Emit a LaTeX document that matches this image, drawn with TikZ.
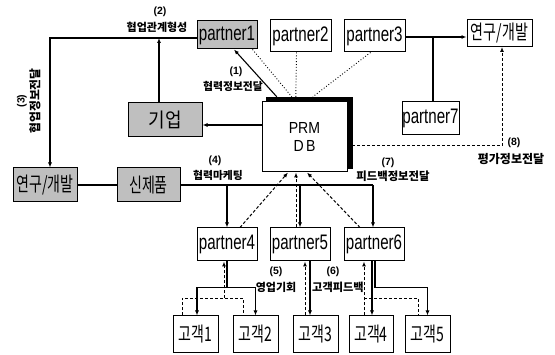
\documentclass[tikz,border=0pt]{standalone}
\usepackage{fontspec}
\setmainfont{Liberation Sans}
\newfontfamily\kr{Noto Sans CJK KR}
\usetikzlibrary{arrows.meta,calc}
\newcommand\entxt[1]{\scalebox{0.72}[1]{\fontsize{21}{21}\selectfont #1}}
\newcommand\kotxt[1]{\scalebox{0.7}[1]{\kr\fontsize{20}{20}\selectfont #1}}
\newcommand\lblsz[1]{\kr\bfseries\fontsize{#1}{#1}\selectfont}
\begin{document}
\begin{tikzpicture}[x=1pt,y=-1pt,
 box/.style={draw,line width=1pt,fill=white,inner sep=0pt,minimum width=60pt,minimum height=33pt},
 gbox/.style={box,fill=black!25},
 arr/.style={-{Latex[length=5pt,width=4pt]}},
 conn/.style={line width=1.1pt},
 dsh/.style={line width=1pt,dash pattern=on 3pt off 2pt},
 dot/.style={line width=0.9pt,dotted},
 lbl/.style={inner sep=0pt},
 num/.style={inner sep=0pt,font=\bfseries\fontsize{10.5}{10.5}\selectfont}]
\fill[white] (0,0) rectangle (555,355);
\useasboundingbox (0,0) rectangle (555,355);

% top row
\node[gbox,minimum width=60pt,minimum height=28pt] (p1) at (227,35) {\entxt{partner1}};
\node[box,minimum width=61pt,minimum height=32pt] (p2) at (300.5,36) {\entxt{partner2}};
\node[box,minimum width=61pt,minimum height=32pt] (p3) at (374.5,36) {\entxt{partner3}};
\node[box,minimum width=65pt,minimum height=27pt] (rd1) at (499.5,33) {\kotxt{연구/개발}};
\node[box,minimum width=57pt,minimum height=33pt] (p7) at (430.5,118.5) {\entxt{partner7}};
\node[gbox,minimum width=74pt,minimum height=34pt] (giup) at (165,120) {\scalebox{0.9}[1]{\kr\fontsize{20}{20}\selectfont 기업}};
\node[gbox,minimum width=64pt,minimum height=34pt] (rd2) at (45,185) {\kotxt{연구/개발}};
\node[gbox,minimum width=63pt,minimum height=34pt] (sin) at (148.5,185) {\kotxt{신제품}};

% PRM DB with shadow
\node[draw,fill=black,minimum width=86pt,minimum height=71pt,inner sep=0pt] (prmsh) at (309,132.5) {};
\node[box,minimum width=85pt,minimum height=70pt,align=center] (prm) at (304.5,137)
  {\scalebox{0.88}[1]{\fontsize{16}{16}\selectfont PRM}\\[6pt]\scalebox{0.88}[1]{\fontsize{16}{16}\selectfont D\,B}};

% partners row
\node[box] (p4) at (227,244.5) {\entxt{partner4}};
\node[box] (p5) at (300,244.5) {\entxt{partner5}};
\node[box] (p6) at (374,244.5) {\entxt{partner6}};

% customers
\node[box,minimum width=45pt,minimum height=37pt] (c1) at (195.5,334.5) {\kotxt{고객1}};
\node[box,minimum width=45pt,minimum height=37pt] (c2) at (255.5,334.5) {\kotxt{고객2}};
\node[box,minimum width=45pt,minimum height=37pt] (c3) at (315.5,334.5) {\kotxt{고객3}};
\node[box,minimum width=44pt,minimum height=37pt] (c4) at (371,334.5) {\kotxt{고객4}};
\node[box,minimum width=45pt,minimum height=37pt] (c5) at (427.5,334.5) {\kotxt{고객5}};

% top connectors
\coordinate (hl) at ([yshift=-3pt]p1.west);
\draw[conn,arr] (hl) -| ([xshift=5pt]rd2.north);
\draw[conn,arr] ([xshift=-6pt]giup.north) -- ([xshift=-6pt]giup.north |- hl);
\draw[conn,arr] ([yshift=12pt]prm.west) -- ([yshift=12pt]prm.west -| giup.east);
\draw[conn,arr] ([xshift=11pt]prmsh.north west) -- ([xshift=7pt]p1.south);
\draw[dot] ([xshift=-5pt]p1.south east) -- ([xshift=26pt]prmsh.north west);
\draw[dot] ([xshift=-4pt]p2.south) -- ([xshift=30pt]prmsh.north west);
\draw[dot] ([xshift=-4pt]p3.south) -- ([xshift=47pt]prmsh.north west);
\coordinate (r3) at ([yshift=-1pt]p3.east);
\draw[conn,arr] (r3) -- (r3 -| rd1.west);
\draw[conn] ([xshift=2.5pt]p7.north) -- ([xshift=2.5pt]p7.north |- r3);
\coordinate (e8) at ([yshift=-13.5pt]prmsh.east);
\draw[dsh,arr] (e8) -| ([xshift=2.5pt]rd1.south);

% middle bus
\coordinate (p6v) at ([xshift=-1pt]p6.north);
\draw[conn] (rd2.east) -- (sin.west);
\draw[conn] (sin.east) -- (sin.east -| p6v);
\draw[conn,arr] (sin.east -| p6v) -- (p6v);
\draw[conn,arr] (sin.east -| p4.north) -- (p4.north);
\draw[conn,arr] (sin.east -| p5.north) -- (p5.north);
\draw[dsh,arr] ([xshift=13pt]p4.north) -- ([xshift=-16.5pt]prm.south);
\draw[dsh,arr] ([xshift=-4pt]p5.north) -- ([xshift=-4pt]p5.north |- prm.south);
\draw[dsh,arr] ([xshift=-14pt]p6.north) -- ([xshift=2.5pt]prm.south);

% partner4 -> customers
\coordinate (b4) at ([yshift=-26pt]p4.south);
\draw[conn] (p4.south) -- (b4);
\draw[conn,arr] (b4) -| ([xshift=1.5pt]c1.north);
\draw[conn,arr] (b4) -| (c2.north);
\coordinate (d4) at ([xshift=-3pt,yshift=-37pt]p4.south);
\draw[dsh,arr] (d4) -- ([xshift=-3pt]p4.south);
\draw[dsh] ([xshift=-13.5pt]c1.north) |- (d4) -| ([xshift=-12.5pt]c2.north);

% partner5 -> customer3
\draw[conn,arr] ([xshift=10pt]p5.south) -- ([xshift=10pt]p5.south |- c3.north);
\draw[dsh,arr] ([xshift=5pt]p5.south |- c3.north) -- ([xshift=5pt]p5.south);

% partner6 -> customers
\draw[conn,arr] ([xshift=-2pt]p6.south) -- ([xshift=-2pt]p6.south |- c4.north);
\coordinate (b6) at ([xshift=1pt,yshift=-26pt]p6.south);
\draw[conn,arr] ([xshift=1pt]p6.south) -- (b6) -| (c5.north);
\coordinate (d6) at ([xshift=-10pt,yshift=-37pt]p6.south);
\draw[dsh,arr] ([xshift=-10pt]p6.south |- c4.north) -- ([xshift=-10pt]p6.south);
\draw[dsh] (d6) -| ([xshift=-9.5pt]c5.north);

% labels
\node[num] (n2) at (160,12) {(2)};
\node[lbl,font=\lblsz{11}] (l2) at (157,27) {협업관계형성};
\node[num] (n1) at (236,72) {(1)};
\node[lbl,font=\lblsz{10.8}] (l1) at (233,86) {협력정보전달};
\node[num,rotate=90] (n3) at (22,101) {(3)};
\node[lbl,rotate=90,font=\lblsz{11.8}] (l3) at (35,101) {협업정보전달};
\node[num] (n4) at (215,161) {(4)};
\node[lbl,font=\lblsz{10.8}] (l4) at (218,175) {협력마케팅};
\node[num] (n7) at (388,163) {(7)};
\node[lbl,font=\lblsz{11.4}] (l7) at (393,176) {피드백정보전달};
\node[num] (n8) at (514,143) {(8)};
\node[lbl,font=\lblsz{12}] (l8) at (511,159) {평가정보전달};
\node[num] (n5) at (276,272) {(5)};
\node[lbl,font=\lblsz{11}] (l5) at (276,287) {영업기회};
\node[num] (n6) at (333,272) {(6)};
\node[lbl,font=\lblsz{11.2}] (l6) at (338,287) {고객피드백};
\end{tikzpicture}
\end{document}
